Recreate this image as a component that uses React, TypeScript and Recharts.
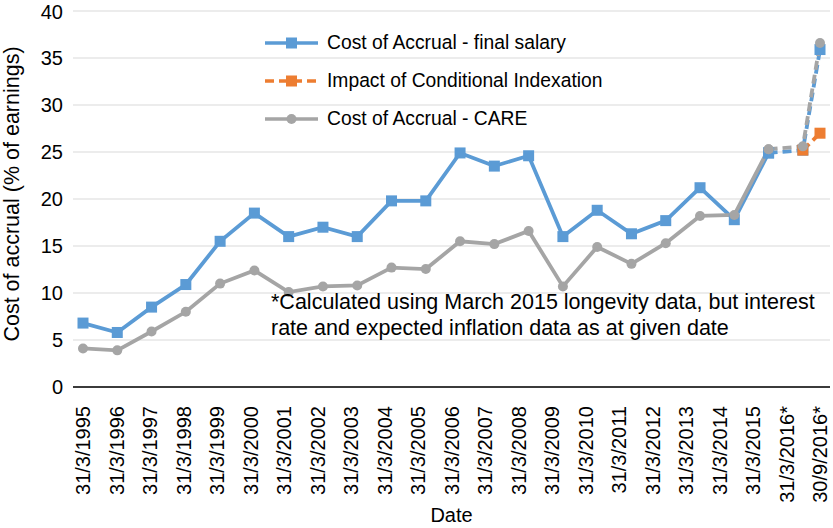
import React from 'react';
import { LineChart, Line, XAxis, YAxis, CartesianGrid } from 'recharts';

const labels = [
  '31/3/1995', '31/3/1996', '31/3/1997', '31/3/1998', '31/3/1999', '31/3/2000',
  '31/3/2001', '31/3/2002', '31/3/2003', '31/3/2004', '31/3/2005', '31/3/2006',
  '31/3/2007', '31/3/2008', '31/3/2009', '31/3/2010', '31/3/2011', '31/3/2012',
  '31/3/2013', '31/3/2014', '31/3/2015', '31/3/2016*', '30/9/2016*',
];

// decimal year of each valuation date
const dates = [
  1995.25, 1996.25, 1997.25, 1998.25, 1999.25, 2000.25, 2001.25, 2002.25,
  2003.25, 2004.25, 2005.25, 2006.25, 2007.25, 2008.25, 2009.25, 2010.25,
  2011.25, 2012.25, 2013.25, 2014.25, 2015.25, 2016.25, 2016.75,
];

const finalSalary = [
  6.8, 5.8, 8.5, 10.9, 15.5, 18.5, 16.0, 17.0, 16.0, 19.8, 19.8, 24.9,
  23.5, 24.6, 16.0, 18.8, 16.3, 17.7, 21.2, 17.8, 24.9, 25.2, 35.9,
];

const care = [
  4.1, 3.9, 5.9, 8.0, 11.0, 12.4, 10.1, 10.7, 10.8, 12.7, 12.55, 15.5,
  15.2, 16.6, 10.7, 14.9, 13.1, 15.3, 18.2, 18.3, 25.3, 25.6, 36.6,
];

const conditional: (number | null)[] = [
  null, null, null, null, null, null, null, null, null, null, null, null,
  null, null, null, null, null, null, null, null, null, 25.2, 27.0,
];

const yTicks = [0, 5, 10, 15, 20, 25, 30, 35, 40];

const lastActual = 20; // 31/3/2015, after which values are projections

const data = labels.map((label, i) => ({
  label,
  t: dates[i],
  fs: i <= lastActual ? finalSalary[i] : null,
  fsProj: i >= lastActual ? finalSalary[i] : null,
  ci: conditional[i],
  care: i <= lastActual ? care[i] : null,
  careProj: i >= lastActual ? care[i] : null,
}));

const BLUE = '#5B9BD5';
const ORANGE = '#ED7D31';
const GRAY = '#A5A5A5';
const FONT = '"Liberation Sans", Arial, Helvetica, sans-serif';

const square = (color: string) => (props: any) => {
  const { cx, cy, value, index } = props;
  if (value == null || cx == null || cy == null) return <g key={index} />;
  return <rect key={index} x={cx - 5.5} y={cy - 5.5} width={11} height={11} fill={color} />;
};

const circle = (color: string) => (props: any) => {
  const { cx, cy, value, index } = props;
  if (value == null || cx == null || cy == null) return <g key={index} />;
  return <circle key={index} cx={cx} cy={cy} r={5} fill={color} />;
};

const DateTick = (props: any) => {
  const { x, y, payload } = props;
  return (
    <g transform={`translate(${x},${y})`}>
      <text
        transform="rotate(-90)"
        x={-11}
        y={0}
        dy="0.36em"
        textAnchor="end"
        fill="#000"
        fontSize={20}
        fontFamily={FONT}
      >
        {payload.value}
      </text>
    </g>
  );
};

const YTitle = (props: any) => {
  const { viewBox } = props;
  const cx = viewBox.x + 12;
  const cy = viewBox.y + viewBox.height / 2 - 5;
  return (
    <text
      x={cx}
      y={cy}
      transform={`rotate(-90, ${cx}, ${cy})`}
      textAnchor="middle"
      dominantBaseline="central"
      fill="#000"
      fontSize={21.5}
      fontFamily={FONT}
    >
      Cost of accrual (% of earnings)
    </text>
  );
};

const LegendRow = ({ color, dashed, marker, text }: any) => (
  <div style={{ display: 'flex', alignItems: 'center', height: 38 }}>
    <svg width={62} height={14}>
      <line
        x1={0}
        x2={53}
        y1={7}
        y2={7}
        stroke={color}
        strokeWidth={3.5}
        strokeDasharray={dashed ? '9 5' : undefined}
      />
      {marker === 'square' ? (
        <rect x={21} y={1.5} width={11} height={11} fill={color} />
      ) : (
        <circle cx={26.5} cy={7} r={5} fill={color} />
      )}
    </svg>
    <span>{text}</span>
  </div>
);

export default function App() {
  return (
    <div style={{ position: 'absolute', left: 0, top: 0, width: 833, height: 528, background: '#fff' }}>
      <LineChart
        width={833}
        height={528}
        data={data}
        margin={{ top: 11, right: 3, bottom: 0, left: 0 }}
      >
        <CartesianGrid vertical={false} stroke="#D9D9D9" strokeWidth={1.2} xAxisId="cat" />
        <XAxis
          xAxisId="cat"
          dataKey="label"
          interval={0}
          tick={<DateTick />}
          tickLine={false}
          axisLine={{ stroke: '#000', strokeWidth: 1.5 }}
          padding={{ left: 10, right: 10 }}
          height={141}
          label={{
            value: 'Date',
            position: 'insideBottom',
            offset: 6,
            fill: '#000',
            fontSize: 20,
            fontFamily: FONT,
          }}
        />
        <XAxis
          xAxisId="t"
          dataKey="t"
          type="number"
          domain={[1995.25, 2016.75]}
          padding={{ left: 10, right: 10 }}
          hide
        />
        <YAxis
          domain={[0, 40]}
          ticks={yTicks}
          width={73}
          tickLine={false}
          axisLine={false}
          tickMargin={4}
          tick={{ fill: '#000', fontSize: 20, fontFamily: FONT }}
          label={<YTitle />}
        />
        <Line
          xAxisId="t"
          dataKey="fs"
          stroke={BLUE}
          strokeWidth={3.8}
          dot={square(BLUE)}
          activeDot={false}
          isAnimationActive={false}
        />
        <Line
          xAxisId="t"
          dataKey="fsProj"
          stroke={BLUE}
          strokeWidth={3.8}
          strokeDasharray="9 5"
          dot={square(BLUE)}
          activeDot={false}
          isAnimationActive={false}
        />
        <Line
          xAxisId="t"
          dataKey="ci"
          stroke={ORANGE}
          strokeWidth={3.8}
          strokeDasharray="9 5"
          dot={square(ORANGE)}
          activeDot={false}
          isAnimationActive={false}
        />
        <Line
          xAxisId="t"
          dataKey="care"
          stroke={GRAY}
          strokeWidth={3.8}
          dot={circle(GRAY)}
          activeDot={false}
          isAnimationActive={false}
        />
        <Line
          xAxisId="t"
          dataKey="careProj"
          stroke={GRAY}
          strokeWidth={3.8}
          strokeDasharray="9 5"
          dot={circle(GRAY)}
          activeDot={false}
          isAnimationActive={false}
        />
      </LineChart>
      <div
        style={{
          position: 'absolute',
          left: 265,
          top: 24,
          fontFamily: FONT,
          fontSize: 19.3,
          color: '#000',
        }}
      >
        <LegendRow color={BLUE} marker="square" text="Cost of Accrual - final salary" />
        <LegendRow color={ORANGE} marker="square" dashed text="Impact of Conditional Indexation" />
        <LegendRow color={GRAY} marker="circle" text="Cost of Accrual - CARE" />
      </div>
      <div
        style={{
          position: 'absolute',
          left: 271,
          top: 289,
          fontFamily: FONT,
          fontSize: 21.5,
          lineHeight: '26px',
          color: '#000',
          whiteSpace: 'nowrap',
        }}
      >
        *Calculated using March 2015 longevity data, but interest
        <br />
        rate and expected inflation data as at given date
      </div>
    </div>
  );
}
